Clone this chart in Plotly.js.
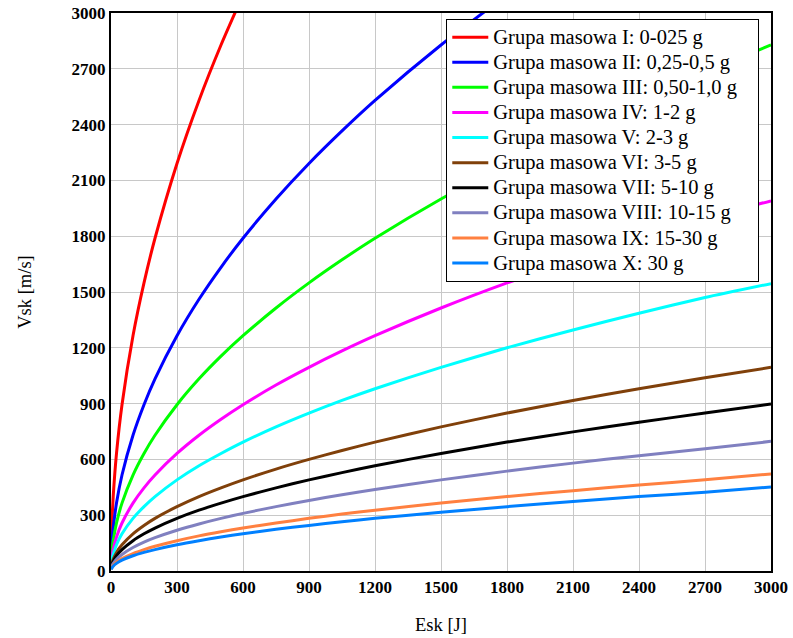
<!DOCTYPE html>
<html>
<head>
<meta charset="utf-8">
<script src="https://cdn.plot.ly/plotly-3.0.1.min.js"></script>
<style>html,body{margin:0;padding:0;background:#fff;}#chart{width:793px;height:638px;}</style>
</head>
<body>
<div id="chart"></div>
<script>
// Energy values (x, J) at which curves were read
const energy = [1, 5, 10, 25, 50, 100, 150, 200, 300, 400, 500, 600, 750, 900, 1050, 1200, 1500, 1800, 2100, 2400, 2700, 3000];

const seriesNames = [
  "Grupa masowa I: 0-025 g",
  "Grupa masowa II: 0,25-0,5 g",
  "Grupa masowa III: 0,50-1,0 g",
  "Grupa masowa IV: 1-2 g",
  "Grupa masowa V: 2-3 g",
  "Grupa masowa VI: 3-5 g",
  "Grupa masowa VII: 5-10 g",
  "Grupa masowa VIII: 10-15 g",
  "Grupa masowa IX: 15-30 g",
  "Grupa masowa X: 30 g"
];

// Velocity values (m/s)
const vI    = [126, 283, 400, 632, 894, 1265, 1549, 1789, 2191, 2530, 2828, 3098];
const vII   = [73, 163, 231, 365, 516, 730, 894, 1033, 1265, 1461, 1633, 1789, 2000, 2191, 2366, 2530, 2828, 3098];
const vIII  = [52, 115, 163, 258, 365, 516, 632, 730, 894, 1033, 1155, 1265, 1414, 1549, 1673, 1789, 2000, 2191, 2366, 2530, 2683, 2828];
const vIV   = [37, 82, 115, 183, 258, 365, 447, 516, 632, 730, 816, 894, 1000, 1095, 1183, 1265, 1414, 1549, 1673, 1789, 1897, 1990];
const vV    = [28, 63, 89, 141, 200, 283, 346, 400, 490, 566, 632, 693, 775, 849, 917, 980, 1095, 1200, 1296, 1386, 1470, 1545];
const vVI   = [20, 45, 63, 100, 141, 200, 245, 283, 346, 400, 447, 490, 548, 600, 648, 693, 775, 849, 917, 980, 1039, 1095];
const vVII  = [16, 37, 52, 82, 115, 163, 200, 231, 283, 327, 365, 400, 447, 490, 529, 566, 632, 693, 748, 800, 849, 898];
const vVIII = [13, 28, 40, 63, 89, 126, 155, 179, 219, 253, 283, 310, 346, 379, 410, 438, 490, 537, 580, 620, 657, 697];
const vIX   = [9, 21, 30, 47, 67, 94, 115, 133, 163, 189, 211, 231, 258, 283, 306, 327, 365, 400, 432, 462, 490, 522];
const vX    = [8, 18, 26, 41, 58, 82, 100, 115, 141, 163, 183, 200, 224, 245, 265, 283, 316, 346, 374, 400, 424, 452];

const tickVals = [0, 300, 600, 900, 1200, 1500, 1800, 2100, 2400, 2700, 3000];

const seriesValues = [vI, vII, vIII, vIV, vV, vVI, vVII, vVIII, vIX, vX];
const colors = ["#ff0000", "#0000ff", "#00ff00", "#ff00ff", "#00ffff", "#80400a", "#000000", "#8080c0", "#ff8040", "#0080ff"];

const traces = seriesValues.map((vals, i) => ({
  type: "scatter",
  mode: "lines",
  x: energy.slice(0, vals.length),
  y: vals,
  name: '<span style="font-size:20.5px">' + seriesNames[i] + '&nbsp;&nbsp;&nbsp;</span>',
  line: {color: colors[i], width: 3, shape: "spline", smoothing: 0.6}
}));

const fontFam = "Liberation Serif";
const axisCommon = {
  range: [0, 3000],
  tickvals: tickVals,
  ticktext: tickVals.map(String),
  showgrid: true,
  gridcolor: "#c8c8c8",
  gridwidth: 1,
  zeroline: false,
  showline: true,
  mirror: true,
  linecolor: "#000",
  linewidth: 2,
  ticks: "",
  tickfont: {family: fontFam, size: 17, color: "#000", weight: "bold"}
};

const layout = {
  width: 793,
  height: 638,
  margin: {l: 111, r: 22, t: 13, b: 67},
  paper_bgcolor: "#fff",
  plot_bgcolor: "#fff",
  font: {family: fontFam, color: "#000"},
  xaxis: Object.assign({}, axisCommon, {
    title: {text: "Esk [J]", font: {family: fontFam, size: 18.5, color: "#000"}, standoff: 22}
  }),
  yaxis: Object.assign({}, axisCommon, {
    title: {text: "Vsk [m/s]", font: {family: fontFam, size: 18.5, color: "#000"}, standoff: 35}
  }),
  showlegend: true,
  legend: {
    x: 0.508, y: 0.990, xanchor: "left", yanchor: "top",
    bgcolor: "#fff",
    bordercolor: "#000",
    borderwidth: 1,
    font: {family: fontFam, size: 17, color: "#000"},
    tracegroupgap: 0,
    itemwidth: 36
  }
};

Plotly.newPlot("chart", traces, layout, {displayModeBar: false, staticPlot: true});
</script>
</body>
</html>
